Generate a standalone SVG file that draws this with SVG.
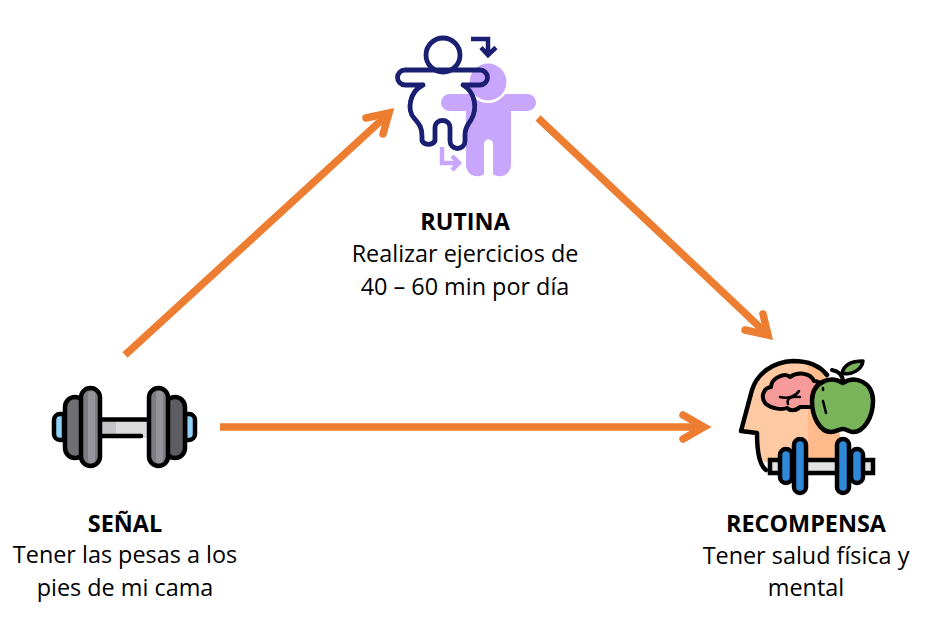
<svg xmlns="http://www.w3.org/2000/svg" width="938" height="638" viewBox="0 0 938 638">
<style>
text{font-family:"Open Sans","Noto Sans","Liberation Sans",sans-serif;font-size:23.4px;fill:#000;text-anchor:middle}
.b{font-weight:700}
.conn{fill:none;stroke:#ed7d31;stroke-width:7.500}
.head{fill:none;stroke:#ed7d31;stroke-width:7.500;stroke-linecap:round;stroke-linejoin:miter;stroke-miterlimit:6}
.k{stroke:#000;stroke-width:4.500;stroke-linejoin:round;stroke-linecap:round}
.n{fill:none;stroke:#1a1f71;stroke-width:4.800;stroke-linecap:round;stroke-linejoin:round}
.a{fill:none;stroke:#1a1f71;stroke-width:4.500;stroke-linejoin:miter}
.p{fill:none;stroke:#c8a6fb;stroke-width:4.500;stroke-linejoin:miter}
.s{fill:none;stroke:#000;stroke-width:2.500;stroke-linecap:round}
</style>
<g id="connectors">
<path class="conn" d="M125 355L386 116"/>
<path class="head" d="M366 118L389 113L383 134"/>
<path class="conn" d="M538 118L765 332"/>
<path class="head" d="M763 314L768 335L745 330"/>
<path class="conn" d="M220 427H702"/>
<path class="head" d="M683 415L704 427L683 439"/>
</g>
<g id="rutina">
<g fill="#c8a6fb">
<path d="M449.500 94H527.500a8.500 8.500 0 0 1 0 17H511V165a11 11 0 0 1-22.500 0a11 11 0 0 1-22.500 0V111H449.500a8.500 8.500 0 0 1 0-17Z"/>
</g>
<circle cx="488" cy="82" r="21" fill="#fff"/>
<circle cx="488" cy="82" r="18.500" fill="#c8a6fb"/>
<path d="M484 176V144a4.500 4.500 0 0 1 9 0V176Z" fill="#fff"/>
<path d="M471 39H488V55M481 47.500L488 55L496 47.500" class="a"/>
<path d="M442 147V163H458M452 156L459 163L452 170" class="p"/>
<circle cx="443" cy="55" r="17" class="n"/>
<path d="M423 85H405a7.500 7.500 0 0 1 0-15H480a7.500 7.500 0 0 1 0 15H463M423 85C409 92 407 110 414 118C420 125 422 128 422 136V141A8 8 0 0 0 435 141V128C435 118 450 118 450 128V141A7.500 7.500 0 0 0 465 141V134C465 128 468 124 471 120C478 108 475 92 463 85" class="n"/>
</g>
<g id="senal">
<path d="M64 414h-4a6 6 0 0 0-6 6v14a6 6 0 0 0 6 6h4Z" fill="#8fd3f8" stroke="#000" stroke-width="4.500"/>
<path d="M185 414h4a6 6 0 0 1 6 6v14a6 6 0 0 1-6 6h-4Z" fill="#8fd3f8" stroke="#000" stroke-width="4.500"/>
<rect x="65" y="397" width="20" height="61" rx="10" fill="#6e6e73" class="k"/>
<rect x="165" y="397" width="20" height="61" rx="10" fill="#5d5d62" class="k"/>
<rect x="100" y="420" width="50" height="18" fill="#dcdcdc"/>
<rect x="102" y="420" width="14" height="18" fill="#c4c4c8"/>
<path d="M100 419.500H150M100 436H141" stroke="#000" stroke-width="4.500" stroke-linecap="round" fill="none"/>
<rect x="81" y="388" width="19" height="78" rx="9.500" fill="#7c7c82" class="k"/>
<rect x="149" y="388" width="19" height="78" rx="9.500" fill="#7c7c82" class="k"/>
<rect x="88" y="391" width="7" height="72" rx="3.500" fill="#94949a"/>
<rect x="156" y="391" width="7" height="72" rx="3.500" fill="#94949a"/>
</g>
<g id="recompensa">
<path d="M741 431L752 390C757 374 772 362 793 361C810 361 820 366 827 375L840 437V462H766C759 459 757 452 757 445V433Z" fill="#ffc9a3"/>
<path d="M808 365C818 368 825 372 830 380L840 437V462H808Z" fill="#ffbb8c"/>
<path d="M766 470C759 465 757 452 757 433L741 431L752 390C757 374 772 362 793 361C808 361 820 366 827 375" fill="none" stroke="#000" stroke-width="4.500" stroke-linejoin="round" stroke-linecap="round"/>
<path d="M787 408C782 410 772 409 766 404C760 398 763 388 771 387C771 378 785 372 790 377C797 372 810 372 814 381C820 381 824 386 822 392L816 407H800C796 411 790 411 787 408Z" fill="#f79a9a" stroke="#000" stroke-width="4" stroke-linejoin="round"/>
<path d="M780 397C788 399 796 396 799 391M788 404C786 398 792 396 800 397" class="s"/>
<path d="M843 383C855 375 873 382 873 401C873 417 864 432 853 432C849 432 847 429 843 429C839 429 836 432 831 432C820 432 812 417 812 401C812 382 830 375 843 383Z" fill="#7ab45a" stroke="#000" stroke-width="4.500" stroke-linejoin="round"/>
<path d="M832 370C838 371 843 375 843 382" fill="none" stroke="#000" stroke-width="4" stroke-linecap="round"/>
<path d="M842 373C844 365 852 361 863 361C862 369 852 376 842 373Z" fill="#7ab45a" stroke="#000" stroke-width="3.500" stroke-linejoin="round"/>
<path d="M823 388V390M823 401L826 413" class="s"/>
<rect x="770" y="460" width="103" height="13" fill="#e2e2e2" stroke="#000" stroke-width="4.500"/>
<g fill="#2f88d8" stroke="#000" stroke-width="4.500">
<rect x="780" y="449" width="12" height="34" rx="6"/>
<rect x="851" y="449" width="12" height="34" rx="6"/>
<rect x="794" y="439" width="12" height="54" rx="6"/>
<rect x="837" y="439" width="12" height="54" rx="6"/>
</g>
</g>
<g id="labels">
<text class="b" x="465" y="230">RUTINA</text>
<text x="465" y="262">Realizar ejercicios de</text>
<text x="465" y="295">40 – 60 min por día</text>
<text class="b" x="125" y="532">SEÑAL</text>
<text x="125" y="563">Tener las pesas a los</text>
<text x="125" y="596">pies de mi cama</text>
<text class="b" x="806" y="532">RECOMPENSA</text>
<text x="806" y="564">Tener salud física y</text>
<text x="806" y="596">mental</text>
</g>
</svg>
